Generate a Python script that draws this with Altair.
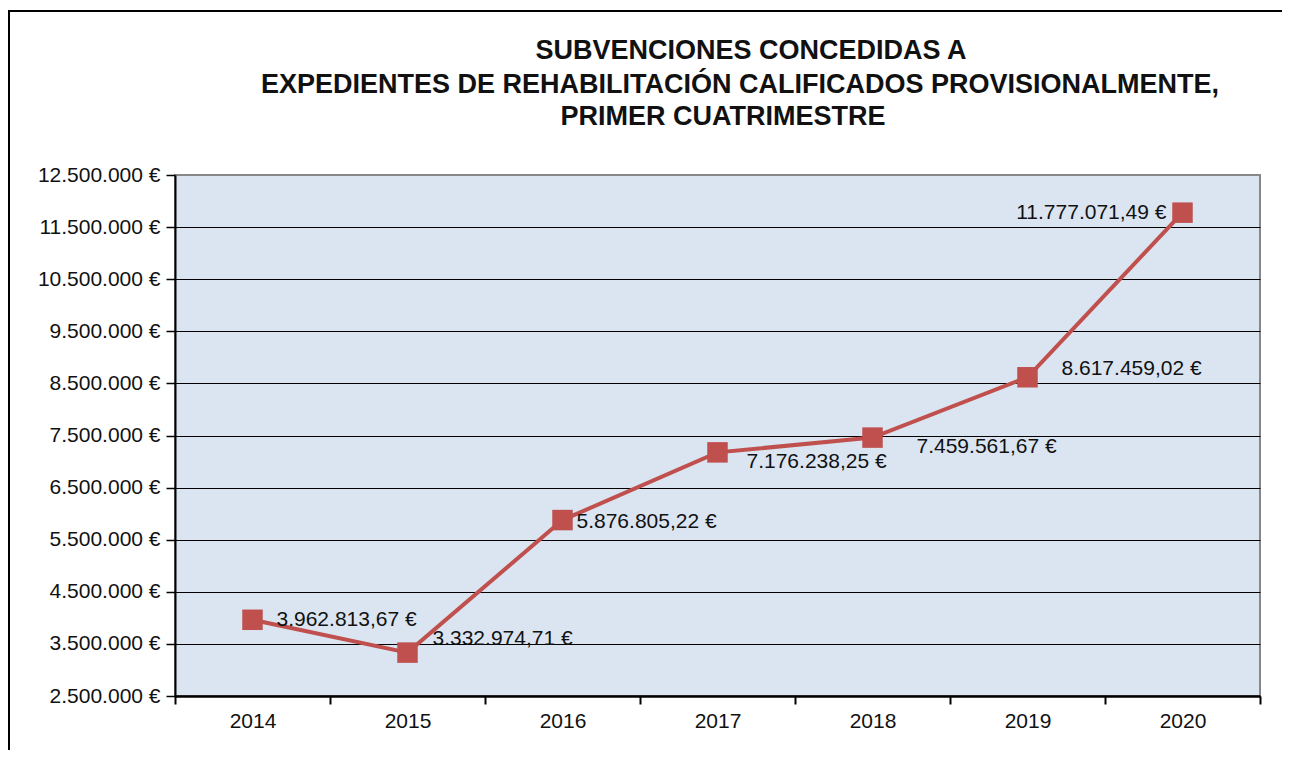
import altair as alt
import pandas as pd

years = ["2014", "2015", "2016", "2017", "2018", "2019", "2020"]
amounts = [3962813.67, 3332974.71, 5876805.22, 7176238.25, 7459561.67, 8617459.02, 11777071.49]
y_ticks = [2500000, 3500000, 4500000, 5500000, 6500000, 7500000,
           8500000, 9500000, 10500000, 11500000, 12500000]
title_lines = [
    "SUBVENCIONES CONCEDIDAS A",
    "EXPEDIENTES DE REHABILITACIÓN  CALIFICADOS  PROVISIONALMENTE,",
    "PRIMER CUATRIMESTRE",
]

# label offsets (style only): year -> (dx, dy, align)
label_style = {
    "2014": (24, 0, "left"),
    "2015": (25, -14, "left"),
    "2016": (14, 2, "left"),
    "2017": (29, 10, "left"),
    "2018": (44, 9, "left"),
    "2019": (34, -8, "left"),
    "2020": (-16, 0, "right"),
}
# title line placement (style only), relative to plot origin
title_pos = [(576, -124), (565, -90), (548, -58)]

df = pd.DataFrame({"year": years, "amount": amounts})

W, H = 1085, 521
FONT = "Liberation Sans"
RED = "#c0504d"

x_enc = alt.X(
    "year:N",
    scale=alt.Scale(type="band", paddingInner=0, paddingOuter=0),
    axis=alt.Axis(
        title=None, labelAngle=0, tickBand="extent", grid=False,
        domainColor="black", domainWidth=2.5, tickColor="black", tickWidth=2,
        tickSize=8, labelFont=FONT, labelFontSize=21, labelColor="#111",
        labelPadding=6,
    ),
)
y_enc = alt.Y(
    "amount:Q",
    scale=alt.Scale(domain=[2500000, 12500000], nice=False, zero=False),
    axis=alt.Axis(
        title=None, values=y_ticks, labelExpr="format(datum.value, ',.0f') + ' €'",
        domainColor="black", domainWidth=2, tickColor="black", tickWidth=1.5,
        tickSize=9, labelFont=FONT, labelFontSize=21, labelColor="#111",
        labelPadding=6, grid=True, gridWidth=1.2,
        gridColor={"condition": {"test": "datum.value >= 12500000", "value": "#888888"},
                   "value": "black"},
    ),
)

base = alt.Chart(df)

line = base.mark_line(color=RED, strokeWidth=4).encode(x=x_enc, y=y_enc)
points = base.mark_point(shape="square", filled=True, size=420, color=RED, opacity=1).encode(
    x=x_enc, y=y_enc
)

labels = []
for yr, (dx, dy, al) in label_style.items():
    labels.append(
        base.transform_filter(alt.datum.year == yr)
        .transform_calculate(lbl="format(datum.amount, ',.2f') + ' €'")
        .mark_text(dx=dx, dy=dy, align=al, baseline="middle", font=FONT,
                   fontSize=21, color="#111")
        .encode(x=x_enc, y=y_enc, text="lbl:N")
    )

one = alt.Chart(pd.DataFrame({"a": [0]}))
frame_top = one.mark_rule(color="black", strokeWidth=2).encode(
    x=alt.value(-167), x2=alt.value(W + 40), y=alt.value(-164)
)
frame_left = one.mark_rule(color="black", strokeWidth=2).encode(
    x=alt.value(-166), y=alt.value(-164), y2=alt.value(H + 80)
)

titles = []
for txt, (tx, ty) in zip(title_lines, title_pos):
    titles.append(
        one.mark_text(font=FONT, fontSize=27, fontWeight="bold", color="#111",
                      align="center", baseline="middle")
        .encode(x=alt.value(tx), y=alt.value(ty), text=alt.value(txt))
    )

chart = (
    alt.layer(frame_top, frame_left, line, points, *labels, *titles)
    .properties(
        width=W,
        height=H,
        autosize=alt.AutoSizeParams(type="none"),
        padding={"left": 167, "top": 167, "right": 22, "bottom": 54},
    )
    .configure(
        locale={"number": {"decimal": ",", "thousands": ".", "grouping": [3],
                           "currency": ["", " €"]}},
        background="white",
    )
    .configure_view(fill="#dbe5f1", stroke="#888888", strokeWidth=2)
)

chart.save("out.html", embed_options={"renderer": "svg", "actions": False})
